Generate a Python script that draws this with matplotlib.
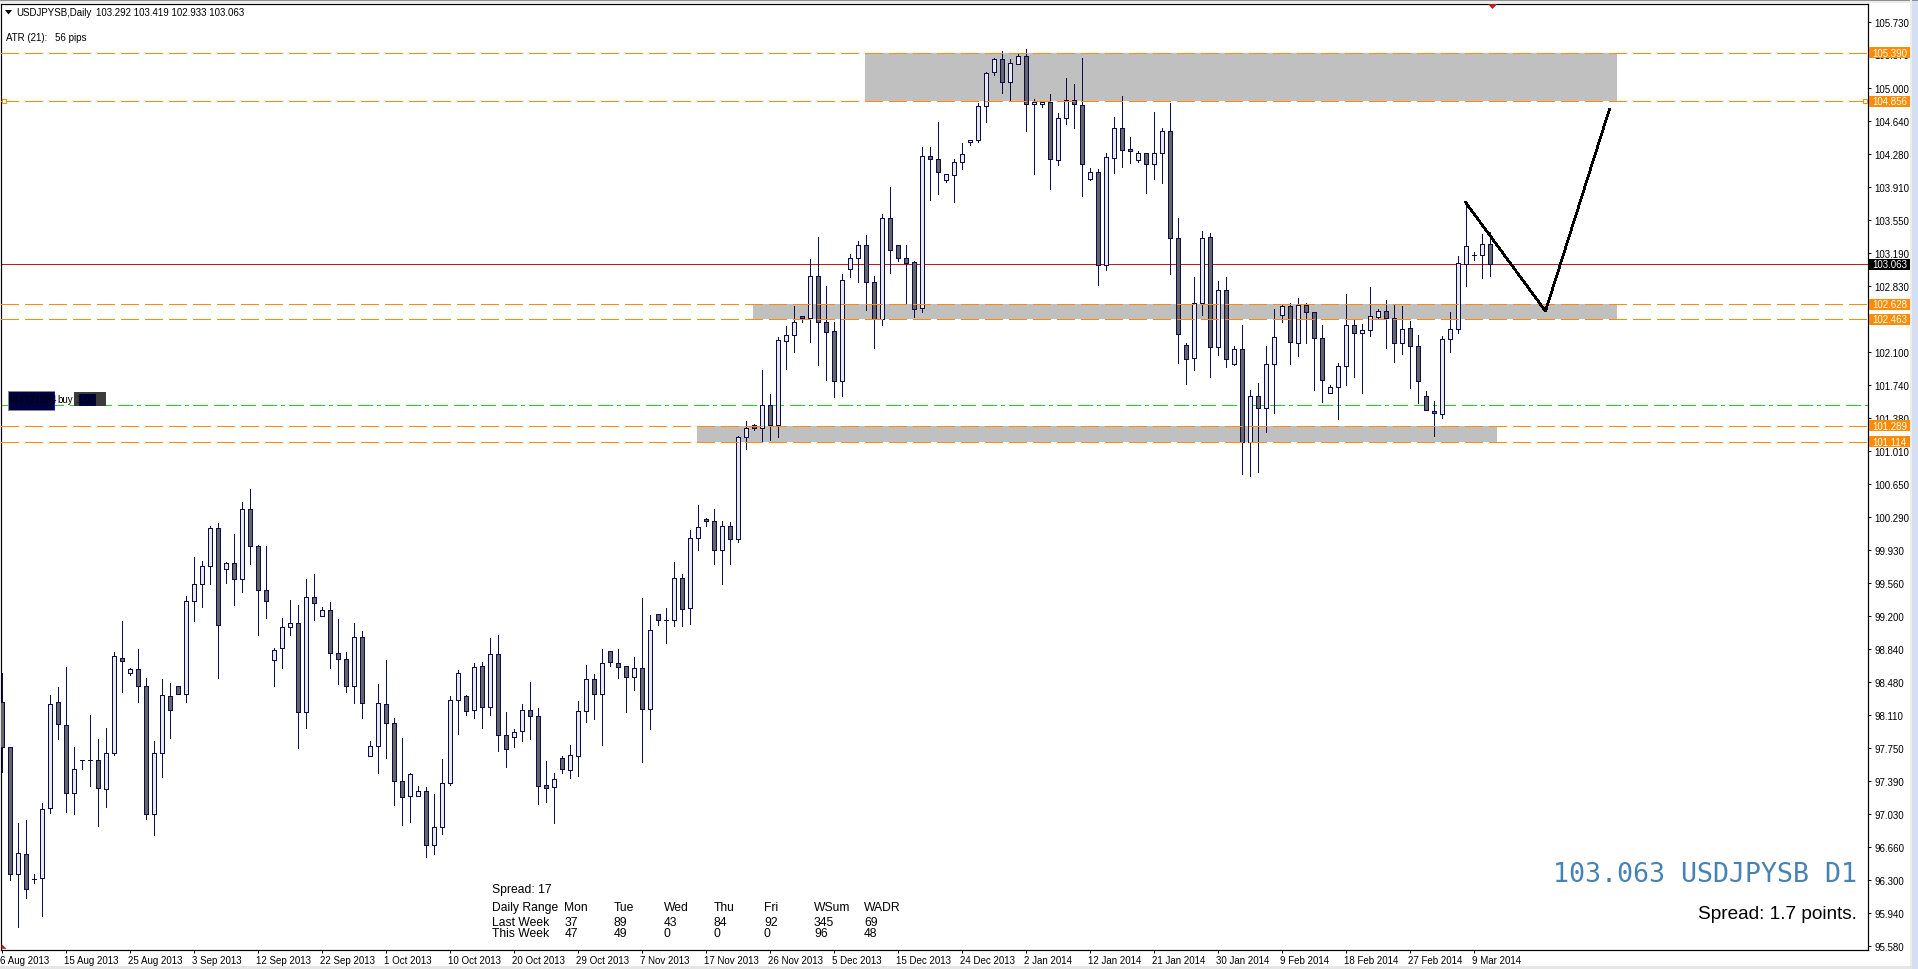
import matplotlib
matplotlib.use("Agg")
import matplotlib.pyplot as plt
from matplotlib.patches import Rectangle, Polygon
from matplotlib.transforms import blended_transform_factory, ScaledTranslation

opens = [98.253,97.759,96.363,96.583,96.316,96.319,97.088,98.253,98.000,97.253,
97.623,97.623,97.616,97.297,97.693,98.736,98.571,98.615,98.429,97.023,
97.693,98.319,98.429,98.341,99.362,99.549,99.747,100.164,99.714,99.780,
99.604,100.373,99.966,99.483,98.714,98.846,99.077,99.121,98.143,99.406,
99.198,99.263,98.791,98.725,98.429,98.967,97.660,97.769,98.231,98.022,
97.385,97.220,97.220,97.275,96.682,96.880,97.363,98.275,98.319,98.165,
98.648,98.198,98.780,97.890,97.868,97.934,98.165,98.099,97.341,97.319,
97.638,97.506,97.660,98.154,98.506,98.341,98.813,98.681,98.648,98.528,
98.626,98.176,99.220,99.154,99.154,99.615,99.285,100.054,100.263,100.241,
99.923,100.186,100.043,101.163,101.295,101.262,101.515,101.295,102.218,102.284,
102.493,102.471,102.932,102.427,102.328,101.779,103.009,103.130,103.273,102.866,
102.460,103.569,103.273,103.130,103.086,102.581,104.250,104.217,103.987,104.042,
104.184,104.404,104.426,104.799,105.173,105.316,105.063,105.261,105.349,104.821,
104.821,104.843,104.206,104.668,104.865,104.810,103.998,104.074,103.053,104.228,
104.558,104.327,104.206,104.283,104.162,104.283,104.525,103.350,102.175,102.032,
102.636,103.361,102.153,102.779,101.966,102.131,101.109,101.614,101.482,101.966,
102.504,102.603,102.196,102.614,102.537,102.251,101.647,101.713,101.944,102.394,
102.306,102.339,102.482,102.548,102.471,102.196,102.361,102.164,101.614,101.450,
101.417,102.240,102.350,103.064,103.167,103.163,103.292]

highs = [98.575,97.759,96.927,96.960,96.363,97.143,98.333,98.421,98.641,97.762,
97.623,98.114,97.850,97.971,98.806,99.146,98.626,98.839,98.516,97.828,
98.509,98.465,98.429,99.421,99.849,99.805,100.186,100.223,99.791,100.102,
100.453,100.596,99.977,99.970,98.846,99.179,99.377,99.322,99.604,99.663,
99.296,99.351,99.168,98.806,99.124,99.036,97.828,98.454,98.718,98.081,
97.861,97.477,97.334,97.319,97.246,97.630,98.319,98.604,98.330,98.681,
98.696,98.960,98.992,98.147,97.960,98.235,98.476,98.191,97.608,97.477,
97.660,97.784,98.268,98.663,98.564,98.839,98.813,98.839,98.648,98.751,
99.399,99.212,99.220,99.289,99.794,99.663,100.146,100.421,100.278,100.377,
100.245,100.234,101.179,101.343,101.306,101.903,101.639,102.262,102.386,102.606,
102.493,103.122,103.360,102.826,102.427,102.954,103.174,103.316,103.386,102.936,
103.613,103.910,103.273,103.276,103.097,104.353,104.353,104.627,104.052,104.217,
104.393,104.433,104.832,105.173,105.327,105.404,105.316,105.371,105.429,104.876,
104.843,104.935,104.726,105.107,105.045,105.330,104.118,104.107,104.283,104.679,
104.909,104.459,104.305,104.283,104.737,104.558,104.836,103.573,102.196,102.922,
103.427,103.405,102.878,102.922,102.164,102.394,101.680,101.757,102.164,102.570,
102.614,102.636,102.691,102.636,102.537,102.394,101.735,101.977,102.735,102.453,
102.405,102.812,102.570,102.669,102.614,102.603,102.438,102.284,101.669,101.559,
102.273,102.537,103.152,103.745,103.196,103.394,103.419]

lows = [97.491,96.305,95.789,96.107,96.272,95.909,97.041,97.850,97.052,97.030,
97.520,97.337,96.898,97.107,97.674,98.370,98.557,98.260,96.975,96.799,
97.436,97.865,98.341,98.260,99.150,99.304,99.556,98.520,99.567,99.326,
99.468,99.776,98.996,99.183,98.436,98.634,98.996,97.755,97.975,99.161,
99.198,98.634,98.458,98.370,98.249,98.084,97.660,97.480,97.645,97.129,
96.909,96.942,97.220,96.557,96.590,96.810,97.341,97.909,98.117,98.084,
97.975,98.117,97.722,97.546,97.766,97.832,97.854,97.136,97.158,96.927,
97.480,97.425,97.447,98.041,98.073,97.788,98.656,98.524,98.150,98.392,
97.601,97.964,99.106,98.908,99.095,99.095,99.117,99.930,100.194,99.776,
99.556,99.776,100.018,101.035,101.248,101.123,101.138,101.171,101.918,102.105,
102.434,102.214,101.962,101.797,101.610,101.621,102.928,102.873,102.566,102.148,
102.401,102.972,103.104,102.628,102.489,102.544,103.774,103.840,103.972,103.752,
104.115,104.378,104.411,104.631,105.147,104.950,104.858,105.261,104.532,104.060,
104.796,103.895,104.159,104.609,104.565,103.818,103.987,102.840,103.005,104.071,
104.137,104.181,104.192,103.851,104.005,103.961,102.958,101.984,101.753,101.907,
102.511,101.830,102.072,101.940,101.955,100.765,100.743,100.787,101.226,101.435,
102.434,101.973,102.061,102.204,101.687,101.556,101.647,101.369,101.742,101.830,
101.655,102.281,102.471,102.149,101.995,102.083,101.709,101.545,101.460,101.182,
101.380,102.105,102.314,102.830,103.108,102.918,102.933]

closes = [97.759,96.363,96.594,96.199,96.316,97.077,98.231,98.011,97.253,97.517,
97.623,97.623,97.308,97.693,98.758,98.703,98.615,98.429,97.023,97.693,
98.330,98.165,98.341,99.362,99.549,99.747,100.164,99.099,99.780,99.604,
100.373,99.966,99.483,99.362,98.824,99.077,99.121,98.143,99.406,99.340,
99.263,98.791,98.725,98.429,98.967,98.242,97.769,98.242,98.022,97.385,
97.209,97.462,97.275,96.682,96.880,97.363,98.275,98.571,98.154,98.637,
98.198,98.780,97.890,97.737,97.923,98.165,98.099,97.330,97.308,97.407,
97.517,97.671,98.154,98.506,98.341,98.681,98.692,98.637,98.528,98.626,
98.176,99.044,99.154,99.154,99.615,99.274,100.054,100.175,100.241,99.923,
100.186,100.043,101.164,101.262,101.262,101.515,101.295,102.229,102.284,102.427,
102.471,102.932,102.427,102.317,101.779,102.888,103.130,103.273,102.866,102.460,
103.569,103.218,103.130,103.075,102.570,104.250,104.217,104.074,104.052,104.184,
104.272,104.426,104.799,105.162,105.316,105.063,105.272,105.349,104.821,104.843,
104.843,104.217,104.668,104.865,104.821,104.162,104.074,103.053,104.239,104.558,
104.316,104.305,104.283,104.162,104.283,104.525,103.350,102.295,102.021,102.636,
103.350,102.153,102.779,102.021,102.131,101.109,101.614,101.482,101.966,102.262,
102.603,102.207,102.614,102.537,102.251,101.790,101.713,101.944,102.394,102.306,
102.339,102.493,102.548,102.471,102.196,102.350,102.164,101.779,101.460,101.428,
102.240,102.350,103.075,103.262,103.167,103.284,103.063]

date_labels = ["6 Aug 2013","15 Aug 2013","25 Aug 2013","3 Sep 2013","12 Sep 2013","22 Sep 2013",
"1 Oct 2013","10 Oct 2013","20 Oct 2013","29 Oct 2013","7 Nov 2013","17 Nov 2013",
"26 Nov 2013","5 Dec 2013","15 Dec 2013","24 Dec 2013","2 Jan 2014","12 Jan 2014",
"21 Jan 2014","30 Jan 2014","9 Feb 2014","18 Feb 2014","27 Feb 2014","9 Mar 2014"]
date_bars = [8*k for k in range(len(date_labels))]

price_ticks = [105.730,105.370,105.000,104.640,104.280,103.910,103.550,103.190,102.830,102.470,
102.100,101.740,101.380,101.010,100.650,100.290,99.930,99.560,99.200,98.840,98.480,98.110,
97.750,97.390,97.030,96.660,96.300,95.940,95.580]

orange_levels = [105.390,104.856,102.628,102.463,101.289,101.114]
green_level = 101.516
last_price = 103.063

zone_left = [107.94,93.94,86.94]
zone_right = [201.9,201.9,186.94]
zone_top = [105.390,102.628,101.289]
zone_bottom = [104.856,102.463,101.114]

path_bars = [183,193,201]
path_prices = [103.746,102.55,104.77]

table_cols = ["Daily Range","Mon","Tue","Wed","Thu","Fri","WSum","WADR"]
last_week = ["Last Week","37","89","43","84","92","345","69"]
this_week = ["This Week","47","49","0","0","0","96","48"]

W, H = 1918, 970
plt.rcParams['lines.scale_dashes'] = False
plt.rcParams['font.family'] = ['Liberation Sans', 'DejaVu Sans']
PX = 0.72
SMALL = 7.0

fig = plt.figure(figsize=(W/100, H/100), dpi=100, facecolor='white')
L, R, T, B = 0.5, 1867.5, 4.5, 950.5
ax = fig.add_axes([L/W, 1-B/H, (R-L)/W, (B-T)/H])
ax.set_xlim((L-1.5)/8, (R-1.5)/8)
ax.set_ylim(105.979-0.010985*B, 105.979-0.010985*T)
ax.set_facecolor('white')

def fx(x): return x/W
def fy(y): return 1-y/H
def frect(x0, y0, x1, y1, **kw):
    fig.add_artist(Rectangle((fx(x0), fy(y1)), (x1-x0)/W, (y1-y0)/H, transform=fig.transFigure, linewidth=0, antialiased=False, **kw))
def fpoly(pts, **kw):
    fig.add_artist(Polygon([(fx(a), fy(b)) for a, b in pts], closed=True, transform=fig.transFigure, linewidth=0, **kw))
def ftext(x, y, s, **kw):
    fig.text(fx(x), fy(y), s, **kw)

# window chrome
frect(0, 0, W, 2, facecolor='#8f8f8f', zorder=0)
frect(0, 2, W, 4, facecolor='#ececec', zorder=0)
frect(1910, 0, 1912, H, facecolor='#ececec', zorder=0)
frect(1912, 2, W, H, facecolor='#d4e0f2', zorder=0)
frect(0, 967, 1912, H, facecolor='#e6e6e6', zorder=0)

# zones
for a, b, t, s in zip(zone_left, zone_right, zone_top, zone_bottom):
    ax.fill_between([a, b], [s, s], [t, t], color='#c0c0c0', linewidth=0, zorder=1, antialiased=False)

# reference lines under candles
ax.axhline(last_price, color='#c01c1c', lw=PX, zorder=1.5, antialiased=False)
ax.axhline(green_level, color='#14dc14', lw=PX, zorder=1.5, antialiased=False,
           linestyle=(0, (15*PX, 6*PX, 15*PX, 4.5*PX, 3*PX, 4.5*PX)), dash_capstyle='butt')

# candles
xs = list(range(len(opens)))
edge = '#0d0d4d'
ax.vlines(xs, lows, highs, color=edge, lw=PX, zorder=2.8, antialiased=False)
tops = [max(o, c) for o, c in zip(opens, closes)]
bots = [min(o, c) for o, c in zip(opens, closes)]
fills = ['#e8e8e8' if c >= o else '#666666' for o, c in zip(opens, closes)]
ax.bar(xs, [t-b for t, b in zip(tops, bots)], bottom=bots, width=0.5, color=fills,
       edgecolor=edge, linewidth=PX, zorder=3, antialiased=False)

# orange levels above candles
for lv in orange_levels:
    ax.axhline(lv, color='#ff8c00', lw=PX, zorder=4, antialiased=False,
               linestyle=(0, (18*PX, 6*PX)), dash_capstyle='butt')

# drawn path
ax.plot(path_bars, path_prices, color='black', lw=1.6*PX, zorder=5, antialiased=False)

# anchors on the level line
ytr = blended_transform_factory(ax.transAxes, ax.transData)
ax.plot([3/1867, 1864/1867], [104.856, 104.856], linestyle='none', marker='s', ms=3, mfc='white',
        mec='#ff8c00', mew=PX, transform=ytr, zorder=6, clip_on=False)

# axes
for sp in ax.spines.values():
    sp.set_linewidth(PX*1.2)
    sp.set_color('black')
ax.yaxis.tick_right()
ax.set_yticks(price_ticks)
ax.set_yticklabels([f"{p:.3f}" for p in price_ticks], fontsize=SMALL, ha='left')
ax.set_xticks(date_bars)
ax.set_xticklabels(date_labels, fontsize=SMALL, ha='left')
ax.tick_params(axis='y', length=3*PX, width=PX, pad=2.6, colors='black')
ax.tick_params(axis='x', length=3*PX, width=PX, pad=2.0, colors='black')
shift = ScaledTranslation(-1.5/100, 0, fig.dpi_scale_trans)
for lab in ax.get_xticklabels():
    lab.set_transform(lab.get_transform() + shift)

# right-hand price boxes
box_h = 11/91.03
for lv in orange_levels + [last_price]:
    col = 'black' if lv == last_price else '#ff8c00'
    ax.add_patch(Rectangle((1.0008, lv-box_h/2), 41/1867, box_h, transform=ytr, facecolor=col,
                           linewidth=0, zorder=10, clip_on=False))
    ax.text(1.0008+20.5/1867, lv, f"{lv:.3f}", transform=ytr, color='white', fontsize=SMALL,
            ha='center', va='center', zorder=11, clip_on=False)

# header text
fpoly([(5, 11), (12, 11), (8.5, 15.5)], facecolor='black')
ftext(16, 13, "USDJPYSB,Daily", fontsize=SMALL, va='center', color='black')
ftext(95.5, 13, "103.292 103.419 102.933 103.063", fontsize=SMALL, va='center', color='black')
ftext(5.7, 38, "ATR (21):", fontsize=SMALL, va='center', color='black')
ftext(55, 38, "56 pips", fontsize=SMALL, va='center', color='black')

# red markers
fpoly([(1488, 5), (1497, 5), (1492.5, 10)], facecolor='#b01e1e', zorder=7)
fpoly([(1.5, 945), (6.5, 949.8), (1.5, 949.8)], facecolor='#b01e1e', zorder=7)

# order label
frect(8, 392, 55, 412, facecolor='#8a8a8a', zorder=7)
frect(9, 393, 54, 411, facecolor='#000040', zorder=7)
frect(53.5, 393, 55, 411, facecolor='#1010e0', zorder=7)
frect(74, 393, 106, 407, facecolor='#3c3c3c', zorder=7)
frect(79, 394.5, 96, 407, facecolor='#000040', zorder=7)
ftext(8.5, 400.5, "#14721094", fontsize=SMALL, va='center', color='black', zorder=8)
ftext(57, 400.5, "buy", fontsize=SMALL, va='center', color='black', zorder=8)
ftext(76, 400.5, "1.00", fontsize=SMALL, va='center', color='black', zorder=8)

# spread table
col_x = [492, 564.3, 614, 664, 714, 764, 814, 864]
ftext(492, 889.7, "Spread: 17", fontsize=8.7, va='center', color='black')
for x, a, b, c in zip(col_x, table_cols, last_week, this_week):
    ftext(x, 907.7, a, fontsize=8.7, va='center', color='black')
    ftext(x, 922.7, b, fontsize=8.7, va='center', color='black')
    ftext(x, 934.3, c, fontsize=8.7, va='center', color='black')

# bottom-right info
ftext(1857, 875, "103.063 USDJPYSB D1", fontsize=19.2, family='DejaVu Sans Mono', ha='right', va='center', color='#4682b4')
ftext(1857, 915, "Spread: 1.7 points.", fontsize=13.7, ha='right', va='center', color='black')

fig.savefig('out.png', dpi=100, facecolor=fig.get_facecolor())
